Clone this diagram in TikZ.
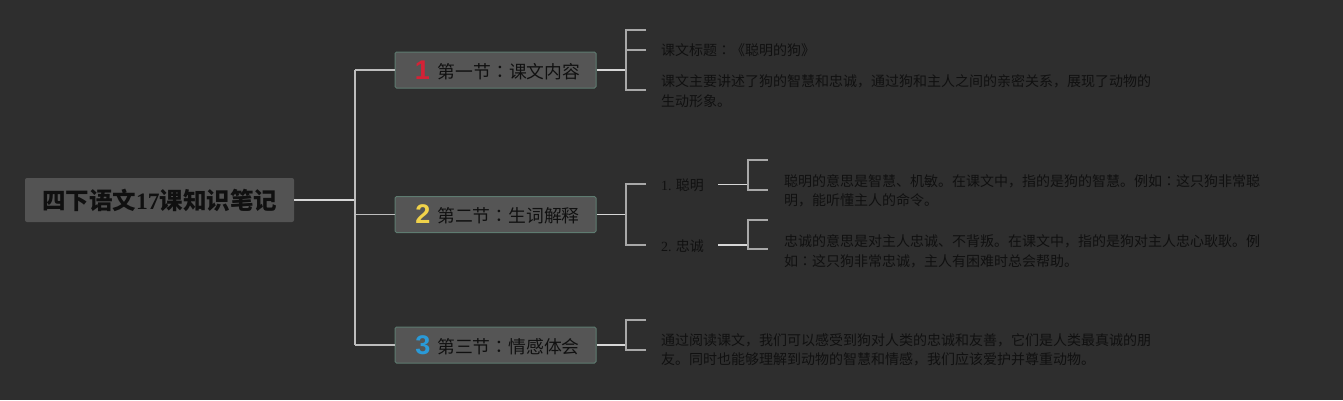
\documentclass[tikz,border=0pt]{standalone}
\usepackage{fontspec}
\setmainfont{Noto Sans CJK SC}
\newfontfamily\serif{Liberation Serif}
\newfontfamily\numfont{Liberation Sans}
\newfontfamily\jp{Noto Sans CJK JP}
\newcommand{\cln}{{\jp ：}}
\definecolor{bg}{HTML}{2E2E2E}
\definecolor{rootfill}{HTML}{535353}
\definecolor{secfill}{HTML}{555555}
\definecolor{secline}{HTML}{5E7B70}
\definecolor{txt}{HTML}{101010}
\definecolor{leadc}{HTML}{D6D6D6}
\definecolor{trunkc}{HTML}{BDBDBD}
\definecolor{brc}{HTML}{A8A8A8}
\definecolor{numred}{HTML}{D42236}
\definecolor{numyel}{HTML}{F0D24A}
\definecolor{numblue}{HTML}{2A9AD8}
\begin{document}
\begin{tikzpicture}[x=1pt,y=-1pt,
  rootbox/.style={fill=rootfill, rounded corners=2pt, minimum width=269pt, minimum height=44pt, inner sep=0pt, text=txt, font=\fontsize{23.5}{26}\selectfont\bfseries},
  secbox/.style={fill=secfill, draw=secline, line width=1pt, rounded corners=1.5pt, minimum width=201pt, minimum height=36pt, inner sep=0pt, text=txt, font=\fontsize{17.8}{20}\selectfont},
  leaf/.style={anchor=west, inner sep=0pt, text=txt, align=left, font=\fontsize{14.0}{19.5}\selectfont},
  lead/.style={draw=leadc, line width=1.8pt},
  trunk/.style={draw=trunkc, line width=1.6pt},
  br/.style={draw=brc, line width=1.6pt}
]
\fill[bg] (0,0) rectangle (1343,400);
\useasboundingbox (0,0) rectangle (1343,400);

% root and sections
\node[rootbox] (root) at (159.5,200) {四下语文{\serif\bfseries 17}课知识笔记};
\node[secbox] (s1) at (495.5,70) {\hspace{4pt}\raisebox{-1pt}{\color{numred}\numfont\bfseries\fontsize{27}{27}\selectfont 1}\hspace{8pt}第一节\cln 课文内容};
\node[secbox] (s2) at (495.5,214.5) {\hspace{4pt}\raisebox{-1pt}{\color{numyel}\numfont\bfseries\fontsize{27}{27}\selectfont 2}\hspace{7pt}第二节\cln 生词解释};
\node[secbox] (s3) at (495.5,345) {\hspace{4pt}\raisebox{-1pt}{\color{numblue}\numfont\bfseries\fontsize{27}{27}\selectfont 3}\hspace{7pt}第三节\cln 情感体会};

% junctions
\coordinate (jr) at (355,200);
\coordinate (jt) at (355,70);
\coordinate (jb) at (355,345);
\coordinate (j2) at (355,214.5);

\draw[lead] (root.east) -- (jr);
\draw[trunk] (jt) -- (jb);
\draw[trunk] (jt) -- (s1.west);
\draw[trunk] (j2) -- (s2.west);
\draw[trunk] (jb) -- (s3.west);

% section 1 leaves
\node[leaf] (a1) at (661,50) {课文标题\cln《聪明的狗》};
\node[leaf] (a2) at (661,91) {课文主要讲述了狗的智慧和忠诚，通过狗和主人之间的亲密关系，展现了动物的\\生动形象。};
\coordinate (a0) at (646,30);
\coordinate (b1) at (626,70);
\draw[lead] (s1.east) -- (b1);
\draw[br] (a0) -- (626,30) -- (626,90) -- ([xshift=-15pt]a2.west |- 0,90);
\draw[br] (626,50) -- ([xshift=-15pt]a1.west);

% section 2 leaves
\node[leaf] (c1) at (661,185.5) {{\serif 1.} 聪明};
\node[leaf] (c2) at (661,246) {{\serif 2.} 忠诚};
\coordinate (b2) at (626,214.5);
\draw[lead] (s2.east) -- (b2);
\draw[br] ([xshift=-15pt]c1.west |- 0,184) -- (626,184) -- (626,245) -- ([xshift=-15pt]c2.west |- 0,245);

\node[leaf] (d1) at (784,191) {聪明的意思是智慧、机敏。在课文中，指的是狗的智慧。例如\cln 这只狗非常聪\\明，能听懂主人的命令。};
\node[leaf] (d2) at (784,251.5) {忠诚的意思是对主人忠诚、不背叛。在课文中，指的是狗对主人忠心耿耿。例\\如\cln 这只狗非常忠诚，主人有困难时总会帮助。};
\coordinate (e1) at (748,184.5);
\coordinate (e2) at (748,245);
\draw[lead] (718,184.5) -- (e1);
\draw[lead] (718,245) -- (e2);
\draw[br] (768,160) -- (748,160) -- (748,190) -- ([xshift=-16pt]d1.west |- 0,190);
\draw[br] (768,220) -- (748,220) -- (748,249) -- ([xshift=-16pt]d2.west |- 0,249);

% section 3 leaves
\node[leaf] (f1) at (661,350) {通过阅读课文，我们可以感受到狗对人类的忠诚和友善，它们是人类最真诚的朋\\友。同时也能够理解到动物的智慧和情感，我们应该爱护并尊重动物。};
\coordinate (b3) at (626,345);
\draw[lead] (s3.east) -- (b3);
\draw[br] (646,320) -- (626,320) -- (626,350) -- ([xshift=-15pt]f1.west);
\end{tikzpicture}
\end{document}
